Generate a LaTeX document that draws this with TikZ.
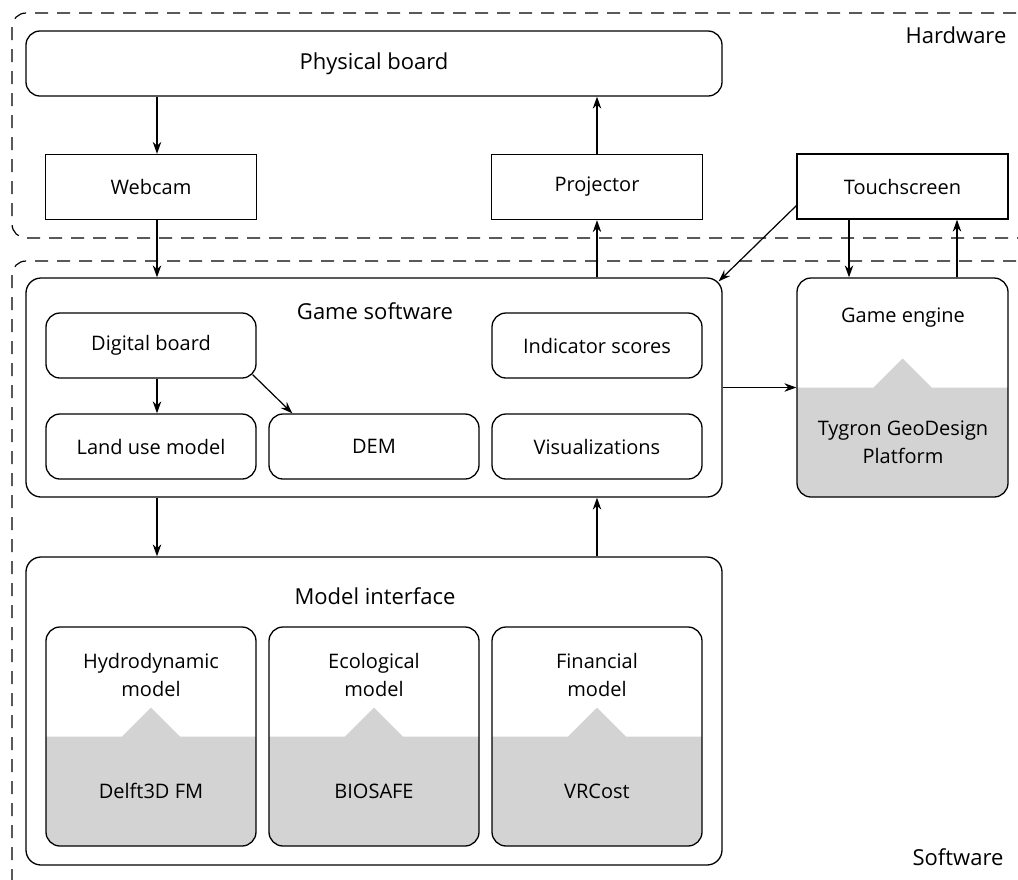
\documentclass[tikz,border=0pt]{standalone}
\usepackage{fontspec}
\setmainfont{Open Sans}
\usetikzlibrary{arrows.meta}
\definecolor{fillgray}{RGB}{211,211,211}
\begin{document}
\begin{tikzpicture}[x=1pt,y=-1pt,
  sqbox/.style={draw, line width=1.3pt, minimum width=211pt, minimum height=65pt, inner sep=0pt, font=\fontsize{20}{28}\selectfont},
  rbox/.style={sqbox, rounded corners=14pt},
  bigbox/.style={draw, line width=1.3pt, rounded corners=15pt, inner sep=0pt},
  modelbox/.style={rbox, minimum height=219pt,
    path picture={\fill[fillgray, sharp corners] (path picture bounding box.west) -- ([xshift=-29pt]path picture bounding box.center) -- ([yshift=29pt]path picture bounding box.center) -- ([xshift=29pt]path picture bounding box.center) -- (path picture bounding box.east) -- (path picture bounding box.south east) -- (path picture bounding box.south west) -- cycle;}},
  title/.style={font=\fontsize{22}{27}\selectfont, inner sep=0pt},
  lbl/.style={font=\fontsize{20}{28}\selectfont, align=center, inner sep=0pt},
  zone/.style={draw, line width=1.2pt, dash pattern=on 13pt off 9pt, rounded corners=14pt},
  arr/.style={line width=1.2pt, -{Stealth[length=12pt,width=8.5pt]}}
]
\useasboundingbox (0,0) rectangle (1018,879);
\clip (0,0) rectangle (1018,879);

% zones (their right edges lie beyond the picture)
\draw[zone] (1060,13) -- (12,13) -- (12,238) -- (1060,238);
\draw[zone] (1060,261) -- (12,261) -- (12,900);
\node[title] (hw) at (956,35) {Hardware};
\node[title] (sw) at (958,857) {Software};

% hardware
\node[rbox, minimum width=696pt, minimum height=65pt, font=\fontsize{22}{27}\selectfont] (phys) at (374,63.5) {Physical board};
\node[sqbox] (webcam) at (151,187) {Webcam};
\node[sqbox] (proj) at (597,187) {Projector};
\node[sqbox] (touch) at (902.5,186.5) {Touchscreen};

% game software
\node[bigbox, minimum width=696pt, minimum height=219pt] (gs) at (374,387.5) {};
\node[title] (gstitle) at (375,311) {Game software};
\node[rbox, minimum width=210pt] (db) at (151,345.5) {Digital board};
\node[rbox, minimum width=210pt] (lu) at (151,446.5) {Land use model};
\node[rbox, minimum width=210pt] (dem) at (374,446.5) {DEM};
\node[rbox, minimum width=210pt] (ind) at (597,345.5) {Indicator scores};
\node[rbox, minimum width=210pt] (vis) at (597,446.5) {Visualizations};

% game engine
\node[modelbox, minimum width=211pt] (ge) at (902.5,387.5) {};
\node[lbl] (getitle) at (903,318) {Game engine};
\node[lbl] (tygron) at (903,442) {Tygron GeoDesign\\Platform};

% model interface
\node[bigbox, minimum width=696pt, minimum height=308pt] (mi) at (374,711) {};
\node[title] (mititle) at (375,596) {Model interface};
\node[modelbox, minimum width=210pt] (hyd) at (151,736.5) {};
\node[modelbox, minimum width=210pt] (eco) at (374,736.5) {};
\node[modelbox, minimum width=210pt] (fin) at (597,736.5) {};
\node[lbl] (hydt) at (151,675) {Hydrodynamic\\model};
\node[lbl] (ecot) at (374,675) {Ecological\\model};
\node[lbl] (fint) at (597,675) {Financial\\model};
\node[lbl] (hydb) at (151,791) {Delft3D FM};
\node[lbl] (ecob) at (374,791) {BIOSAFE};
\node[lbl] (finb) at (597,791) {VRCost};

% helper x positions
\coordinate (xl) at (157,0);
\coordinate (xp) at (597,0);
\coordinate (xd) at (849,0);
\coordinate (xu) at (957,0);

% connectors
\draw[arr] (phys.south -| xl) -- (webcam.north -| xl);
\draw[arr] (proj.north -| xp) -- (phys.south -| xp);
\draw[arr] (webcam.south -| xl) -- (gs.north -| xl);
\draw[arr] (gs.north -| xp) -- (proj.south -| xp);
\draw[arr] ([yshift=14pt]touch.south west) -- ([xshift=-4pt,yshift=-4pt]gs.north east);
\draw[arr] (touch.south -| xd) -- (ge.north -| xd);
\draw[arr] (ge.north -| xu) -- (touch.south -| xu);
\draw[arr] (gs.east) -- (ge.west);
\draw[arr] (db.south -| xl) -- (lu.north -| xl);
\draw[arr] ([xshift=-4pt,yshift=4pt]db.south east) -- ([xshift=24pt]dem.north west);
\draw[arr] (gs.south -| xl) -- (mi.north -| xl);
\draw[arr] (mi.north -| xp) -- (gs.south -| xp);
\end{tikzpicture}
\end{document}
